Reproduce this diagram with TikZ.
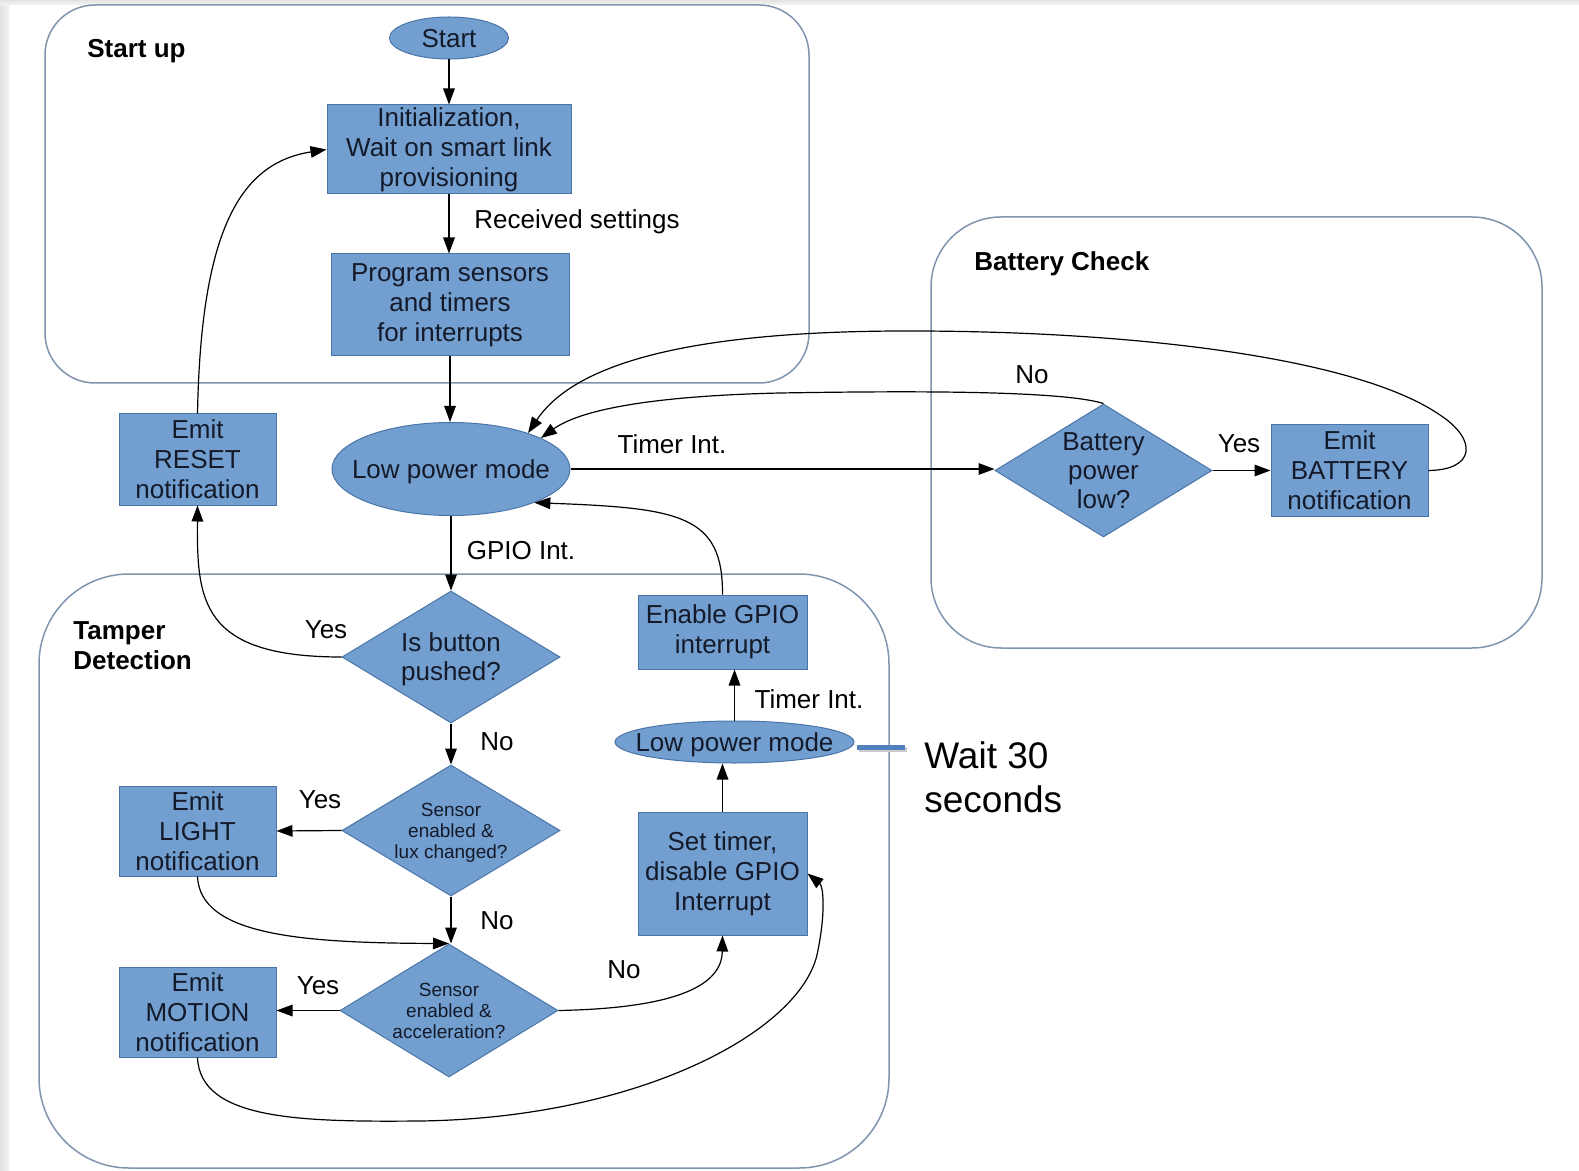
\documentclass[tikz,border=0pt]{standalone}
\usepackage{fontspec}
\setmainfont{Liberation Sans}
\usetikzlibrary{shapes.geometric,arrows.meta}
\definecolor{boxfill}{HTML}{729FCF}
\definecolor{boxline}{HTML}{4A75A8}
\definecolor{grpline}{HTML}{8095AD}
\definecolor{txtcol}{HTML}{141A2A}
\definecolor{callout}{HTML}{4F81BD}
\newcommand{\elltext}[1]{\makebox[0pt]{\raisebox{-4.6pt}[0pt][0pt]{#1}}}
\tikzset{
  box/.style={draw=boxline, line width=0.5pt, fill=boxfill, rectangle, inner sep=0pt,
    align=center, font=\fontsize{13}{15}\selectfont, text=txtcol},
  ell/.style={draw=boxline, line width=0.5pt, fill=boxfill, ellipse, inner sep=0pt,
    font=\fontsize{13}{15}\selectfont, text=txtcol},
  dia/.style={draw=boxline, line width=0.5pt, fill=boxfill, diamond, inner sep=0pt},
  txt/.style={align=center, font=\fontsize{13}{14.5}\selectfont, text=txtcol, inner sep=0pt},
  smalltxt/.style={align=center, font=\fontsize{9.5}{10.5}\selectfont, text=txtcol, inner sep=0pt},
  lbl/.style={font=\fontsize{13}{15}\selectfont, inner sep=0pt, text=black},
  grp/.style={draw=grpline, line width=0.75pt},
  grplbl/.style={font=\bfseries\fontsize{13}{15}\selectfont, anchor=west, inner sep=0pt, align=left},
  arr/.style={draw=black, line width=0.6pt, -{Triangle[length=8pt,width=5.8pt]}},
}
\begin{document}
\begin{tikzpicture}[x=0.5pt,y=0.5pt]
\useasboundingbox (0,0) rectangle (1579,-1171);
\fill[white] (0,0) rectangle (1579,-1171);
\shade[left color=gray!22, right color=gray!10] (0,0) rectangle (9,-1171);
\shade[top color=gray!22, bottom color=gray!8] (0,0) rectangle (1579,-5);

% groups
\draw[grp, rounded corners=25pt] (45,-5) rectangle (809,-383);
\draw[grp, rounded corners=35pt] (931,-217) rectangle (1542,-648);
\draw[grp, rounded corners=45pt] (39,-574) rectangle (889,-1168);
\node[grplbl] (lblsu) at (87,-51) {Start up};
\node[grplbl] (lblbc) at (974,-264) {Battery Check};
\node[grplbl] (lbltd) at (73,-646) {Tamper\\Detection};

% nodes
\node[ell, minimum width=59.5pt, minimum height=21pt] (start) at (449,-38) {\elltext{Start}};
\node[box, minimum width=122pt, minimum height=44.5pt] (init) at (449,-149.5) {Initialization,\\Wait on smart link\\provisioning};
\node[box, minimum width=119pt, minimum height=51pt] (prog) at (450,-305) {Program sensors\\and timers\\for interrupts};
\node[ell, minimum width=119pt, minimum height=46.5pt] (lpm) at (451,-469) {\elltext{Low power mode}};
\node[box, minimum width=78.5pt, minimum height=45.5pt] (reset) at (197.5,-459.5) {Emit\\RESET\\notification};

\node[dia, minimum width=109pt, minimum height=66pt] (isb) at (451,-657) {};
\node[txt] (isbt) at (451,-659) {Is button\\pushed?};
\node[dia, minimum width=109pt, minimum height=65.5pt] (lux) at (451,-830.5) {};
\node[smalltxt] (luxt) at (451,-832.5) {Sensor\\enabled \&\\lux changed?};
\node[dia, minimum width=109pt, minimum height=66.5pt] (acc) at (449,-1010.5) {};
\node[smalltxt] (acct) at (acc) {Sensor\\enabled \&\\acceleration?};

\node[box, minimum width=78.5pt, minimum height=45pt] (light) at (197.5,-831) {Emit\\LIGHT\\notification};
\node[box, minimum width=78.5pt, minimum height=45pt] (motion) at (197.5,-1012) {Emit\\MOTION\\notification};

\node[box, minimum width=84.5pt, minimum height=61.5pt] (st) at (722.5,-873.5) {Set timer,\\disable GPIO\\Interrupt};
\node[ell, minimum width=119.5pt, minimum height=21pt] (lpmb) at (734.5,-742) {\elltext{Low power mode}};
\node[box, minimum width=84.5pt, minimum height=37pt] (eg) at (722.5,-632) {Enable GPIO\\interrupt};

\node[dia, minimum width=108.5pt, minimum height=66.5pt] (bd) at (1103.5,-470.5) {};
\node[txt] (bdt) at (bd) {Battery\\power\\low?};
\node[box, minimum width=78.5pt, minimum height=45.5pt] (bbat) at (1349.5,-470.5) {Emit\\BATTERY\\notification};

% straight connectors
\draw[arr] (start.south) -- (init.north);
\draw[arr] (init.south) -- (init.south |- prog.north);
\draw[arr] (prog.south) -- (prog.south |- lpm.north);
\draw[arr] (lpm.east) -- (lpm.east -| bd.west);
\draw[arr] (bd.east) -- (bbat.west);
\draw[arr] (lpm.south) -- (isb.north);
\draw[arr] (isb.south) -- (lux.north);
\draw[arr] (lux.south) -- (lux.south |- acc.north);
\draw[arr] (lux.west) -- (light.east);
\draw[arr] (acc.west) -- (acc.west -| motion.east);
\draw[arr] (st.north) -- (st.north |- lpmb.south);
\draw[arr] (lpmb.north) -- (lpmb.north |- eg.south);

% curved connectors
\draw[arr] (reset.north) .. controls (201,-230) and (240,-163) .. (init.west);
\draw[arr] (isb.west) .. controls (200,-657) and (197,-600) .. (reset.south);
\draw[arr] (light.south) .. controls (200,-935) and (300,-943) .. (acc.north);
\coordinate (mv1) at (420,-1121);
\coordinate (mv2) at (818,-950);
\draw[arr] (motion.south) .. controls (200,-1120) and (300,-1122) .. (mv1)
   .. controls (640,-1118) and (805,-1030) .. (mv2)
   .. controls (826,-910) and (823,-886) .. (st.east);
\draw[arr] (acc.east) .. controls (690,-1008) and (722,-980) .. (st.south);
\draw[arr] (eg.north) .. controls (723,-515) and (680,-508) .. (lpm.-22);
\coordinate (nv1) at (780,-393);
\draw[arr] (bd.north) .. controls (1060,-390) and (900,-391) .. (nv1)
   .. controls (650,-396) and (580,-410) .. (lpm.19);
\coordinate (ov1) at (1440,-415);
\coordinate (ov2) at (920,-331);
\draw[arr] (bbat.east) .. controls (1475,-470) and (1478,-440) .. (ov1)
   .. controls (1360,-360) and (1150,-332) .. (ov2)
   .. controls (720,-330) and (580,-355) .. (lpm.25);

% labels
\node[lbl] (l1) at (577,-222) {Received settings};
\node[lbl] (l2) at (672,-444) {Timer Int.};
\node[lbl] (l3) at (521,-551) {GPIO Int.};
\node[lbl] (l4) at (326,-630) {Yes};
\node[lbl] (l5) at (497,-742) {No};
\node[lbl] (l6) at (320,-800) {Yes};
\node[lbl] (l7) at (497,-921) {No};
\node[lbl] (l8) at (318,-986) {Yes};
\node[lbl] (l9) at (624,-970) {No};
\node[lbl] (l10) at (809,-699) {Timer Int.};
\node[lbl] (l11) at (1032,-375) {No};
\node[lbl] (l12) at (1239,-444) {Yes};

% callout
\coordinate (w1) at (857,-747);
\coordinate (w2) at (905,-747);
\draw[gray!40, line width=2.5pt] ([shift={(1.5,-2.5)}]w1) -- ([shift={(1.5,-2.5)}]w2);
\draw[callout, line width=2.5pt] (w1) -- (w2);
\node[anchor=west, align=left, font=\fontsize{18.5}{22}\selectfont, inner sep=0pt] (wait) at (924,-777.5) {Wait 30\\seconds};
\end{tikzpicture}
\end{document}
